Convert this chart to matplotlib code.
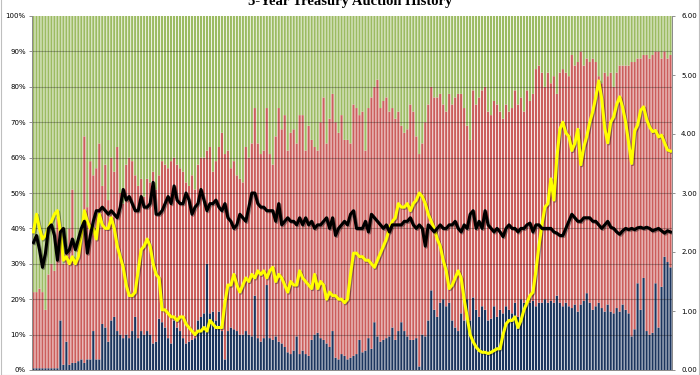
import matplotlib
matplotlib.use("Agg")
import matplotlib.pyplot as plt
import matplotlib.patheffects as pe
import numpy as np

# direct bidders, % of auction
direct = [
    0.5, 0.5, 0.5, 0.5, 0.5, 0.5, 0.5, 0.5, 0.5, 14,
    1.5, 8, 1.5, 2, 2, 2.5, 3, 2, 3, 3,
    11, 3, 3, 13, 12, 8, 14, 15, 11, 10,
    9, 10, 9, 11, 15, 9, 11, 10, 11, 10,
    7.5, 8, 14.5, 13.5, 12, 9, 7.5, 14, 12, 11,
    9, 7.5, 8, 8.5, 9, 14, 15, 16, 30, 16,
    16.5, 14, 16.5, 11, 3, 11, 12, 11.5, 11, 10,
    10, 11, 10, 9.5, 21, 9, 8, 9, 24, 9,
    8.5, 9.5, 8, 7.5, 6.5, 5, 4.5, 5.5, 9.5, 4.5,
    5.5, 4.5, 4, 8.5, 10, 10.5, 9, 8.5, 7.5, 6.5,
    11, 3.5, 3, 4.5, 4, 3, 3.5, 4, 4.5, 8.5,
    5, 5.5, 9, 6, 13.5, 9.5, 8, 8.5, 9, 9.5,
    12, 8.5, 11, 13.5, 11, 9.5, 8.5, 8.5, 9, 1,
    10, 9.5, 14, 22.5, 17, 15, 19, 20, 18, 19,
    14, 12, 11, 16, 14, 20, 14, 20.5, 17, 15,
    18, 17, 14, 14.5, 18, 15, 17, 16, 18, 17,
    16, 19, 15, 20, 19, 18, 19, 19.5, 18, 19,
    19, 20, 19, 19.5, 19, 21, 19, 18, 19, 18,
    17.5, 18.5, 16.5, 18.5, 19.5, 21.7, 19, 17, 18, 19,
    17.5, 16.5, 18.5, 16.5, 16, 17.5, 16.5, 18.5, 17, 16,
    9.5, 11.5, 24.5, 17, 26, 11, 10, 10.5, 24.5, 12,
    23.5, 32, 30.5, 29,
]

# direct + indirect bidders, % of auction (rest went to dealers)
direct_indirect = [
    22, 22, 23, 22, 17, 27, 30, 28, 43, 36,
    30, 33, 40, 51, 31, 34, 40, 66, 46, 59,
    55, 57, 64, 52, 58, 48, 60, 56, 63, 50,
    47, 58, 60, 59, 55, 52, 54, 49, 54, 53,
    56, 51, 55, 59, 58, 57, 59, 60, 58, 57,
    56, 53, 52, 55, 51, 58, 60, 60, 62, 63,
    56, 59, 63, 67, 61, 62, 57, 59, 55, 54,
    53, 63, 60, 64, 74, 64, 61, 62, 74, 61,
    58, 66, 74, 68, 72, 62, 67, 68, 64, 72,
    72, 62, 69, 65, 63, 62, 70, 77, 64, 71,
    78, 70, 67, 72, 65, 65, 64, 75, 74, 72,
    73, 62, 74, 77, 80, 82, 74, 76, 77, 73,
    74, 71, 73, 69, 67, 68, 75, 73, 66, 61,
    64, 70, 75, 80, 77, 77, 78, 75, 73, 78,
    75, 77, 78, 78, 74, 69, 65, 79, 75, 77,
    79, 80, 73, 72, 76, 75, 73, 71, 75, 73,
    74, 79, 75, 77, 73, 79, 76, 78, 85, 86,
    84, 80, 84, 81, 83, 78, 84, 85, 84, 83,
    89, 86, 87, 90, 86, 88, 87, 88, 87, 83,
    81, 84, 83, 84, 80, 84, 86, 86, 86, 86,
    87, 87, 88, 88, 89, 89, 88, 89, 90, 90,
    88, 90, 88, 89,
]

# bid to cover ratio (right axis)
bid_to_cover = [
    2.16, 2.28, 2.04, 1.74, 1.98, 2.40, 2.46, 2.28, 1.86, 2.34,
    2.40, 1.98, 2.04, 2.22, 2.04, 2.22, 2.40, 2.52, 1.98, 2.28,
    2.52, 2.70, 2.70, 2.76, 2.70, 2.64, 2.70, 2.64, 2.58, 2.76,
    3.06, 2.88, 2.94, 2.82, 2.70, 2.70, 2.94, 2.76, 2.76, 2.82,
    3.18, 2.64, 2.64, 2.70, 2.82, 2.94, 2.82, 3.12, 2.88, 2.82,
    2.82, 3.00, 2.88, 2.64, 2.76, 2.82, 3.06, 2.88, 2.70, 2.82,
    2.82, 2.88, 2.76, 2.70, 2.82, 2.58, 2.52, 2.40, 2.46, 2.64,
    2.58, 2.52, 2.76, 3.00, 3.00, 2.82, 2.76, 2.76, 2.70, 2.70,
    2.70, 2.52, 2.82, 2.46, 2.52, 2.58, 2.52, 2.52, 2.46, 2.58,
    2.46, 2.58, 2.46, 2.52, 2.40, 2.46, 2.46, 2.52, 2.58, 2.40,
    2.58, 2.28, 2.40, 2.46, 2.52, 2.46, 2.64, 2.70, 2.40, 2.40,
    2.40, 2.52, 2.34, 2.64, 2.58, 2.52, 2.46, 2.40, 2.46, 2.34,
    2.46, 2.46, 2.46, 2.46, 2.52, 2.52, 2.58, 2.46, 2.40, 2.46,
    2.40, 2.10, 2.46, 2.40, 2.34, 2.40, 2.46, 2.40, 2.40, 2.46,
    2.46, 2.52, 2.40, 2.34, 2.46, 2.40, 2.64, 2.70, 2.40, 2.52,
    2.40, 2.70, 2.46, 2.40, 2.34, 2.40, 2.34, 2.26, 2.40, 2.46,
    2.40, 2.40, 2.34, 2.40, 2.40, 2.46, 2.49, 2.34, 2.46, 2.46,
    2.40, 2.40, 2.40, 2.40, 2.34, 2.32, 2.28, 2.28, 2.40, 2.52,
    2.64, 2.58, 2.52, 2.52, 2.58, 2.58, 2.58, 2.52, 2.52, 2.46,
    2.40, 2.46, 2.52, 2.42, 2.40, 2.34, 2.30, 2.36, 2.40, 2.38,
    2.40, 2.38, 2.41, 2.42, 2.40, 2.42, 2.40, 2.36, 2.38, 2.40,
    2.36, 2.32, 2.36, 2.34,
]

# auction high yield, % (right axis)
high_yield = [
    2.34, 2.64, 2.40, 2.22, 2.28, 2.40, 2.52, 2.64, 2.70, 2.34,
    1.86, 1.92, 1.80, 1.92, 1.80, 1.92, 2.28, 2.70, 2.52, 2.40,
    2.40, 2.22, 2.64, 2.46, 2.40, 2.40, 2.58, 2.40, 2.10, 1.92,
    1.74, 1.44, 1.26, 1.26, 1.32, 1.68, 2.04, 2.10, 2.22, 2.10,
    1.80, 1.62, 1.56, 1.02, 1.02, 0.96, 0.90, 0.90, 0.84, 0.90,
    0.90, 0.78, 0.72, 0.66, 0.60, 0.66, 0.66, 0.72, 0.66, 0.84,
    0.78, 0.72, 0.72, 0.72, 1.14, 1.44, 1.44, 1.62, 1.44, 1.32,
    1.44, 1.56, 1.50, 1.62, 1.56, 1.68, 1.62, 1.68, 1.56, 1.68,
    1.74, 1.50, 1.62, 1.56, 1.44, 1.32, 1.50, 1.44, 1.44, 1.68,
    1.56, 1.50, 1.44, 1.38, 1.62, 1.38, 1.50, 1.44, 1.20, 1.32,
    1.26, 1.26, 1.20, 1.20, 1.14, 1.20, 1.62, 1.98, 1.98, 1.92,
    1.92, 1.86, 1.86, 1.80, 1.74, 1.86, 1.98, 2.10, 2.22, 2.40,
    2.52, 2.58, 2.82, 2.76, 2.76, 2.82, 2.70, 2.82, 2.88, 3.00,
    2.94, 2.82, 2.64, 2.52, 2.40, 2.22, 2.10, 1.86, 1.68, 1.38,
    1.44, 1.56, 1.68, 1.56, 1.20, 0.90, 0.60, 0.48, 0.39, 0.33,
    0.30, 0.30, 0.28, 0.30, 0.33, 0.36, 0.36, 0.60, 0.78, 0.84,
    0.84, 0.90, 0.72, 0.84, 1.02, 1.14, 1.26, 1.32, 1.68, 2.10,
    2.46, 2.76, 2.82, 3.24, 2.88, 3.60, 4.08, 4.20, 4.02, 3.96,
    3.72, 3.84, 4.08, 3.48, 3.78, 3.96, 4.20, 4.38, 4.62, 4.90,
    4.60, 4.10, 3.85, 4.20, 4.29, 4.50, 4.63, 4.45, 4.20, 3.85,
    3.50, 4.05, 4.15, 4.40, 4.46, 4.25, 4.12, 4.04, 4.06, 3.95,
    3.98, 3.85, 3.73, 3.71,
]

title = "5-Year Treasury Auction History"

blue = "#1C355E"
red = "#CB5E5C"
green = "#9CBB62"

direct = np.array(direct)
direct_indirect = np.array(direct_indirect)
indirect = direct_indirect - direct
dealers = 100 - direct_indirect
x = np.arange(len(direct))

fig = plt.figure(figsize=(7, 3.75), dpi=100)
ax = fig.add_axes([32 / 700, 5 / 375, 640 / 700, 354 / 375])

# bars are ~3 px apart, so turn pixel snapping off to keep every gap visible
w = 0.72
ax.bar(x, direct, w, color=blue, zorder=2, snap=False, linewidth=0)
ax.bar(x, indirect, w, bottom=direct, color=red, zorder=2, snap=False, linewidth=0)
ax.bar(x, dealers, w, bottom=direct_indirect, color=green, zorder=2, snap=False, linewidth=0)

for g in range(10, 100, 10):
    ax.axhline(g, color="black", alpha=0.28, lw=0.8, zorder=3)

ax.set_xlim(-0.5, len(x) - 0.5)
ax.set_ylim(0, 100)
ax.set_yticks(range(0, 101, 10))
ax.set_yticklabels([f"{v}%" for v in range(0, 101, 10)])
ax.set_xticks([])
ax.tick_params(axis="y", labelsize=5, length=2.5, width=0.6, color="#808080", pad=2)

ax2 = ax.twinx()
ax2.set_ylim(0, 6)
ax2.set_yticks(range(0, 7))
ax2.set_yticklabels([f"{v:.2f}" for v in range(0, 7)])
ax2.tick_params(axis="y", labelsize=5, length=2.5, width=0.6, color="#808080", pad=4)

shadow = [pe.SimpleLineShadow(offset=(0.8, -0.8), alpha=0.35), pe.Normal()]
ax2.plot(x, high_yield, color="#FFFF00", lw=2.2, zorder=5, path_effects=shadow)
ax2.plot(x, bid_to_cover, color="black", lw=2.2, zorder=6, path_effects=shadow)

for a in (ax, ax2):
    a.spines["top"].set_visible(False)
    for s in ("left", "right", "bottom"):
        a.spines[s].set_color("#8C8C8C")
        a.spines[s].set_linewidth(0.7)

fig.text(0.5, 1 - 5 / 375, title, ha="center", va="baseline", fontsize=10.5,
         fontweight="bold", family="Liberation Serif")

fig.patches.append(plt.Rectangle((0.002, 0), 0.996, 1.2, transform=fig.transFigure,
                                 fill=False, edgecolor="#BFBFBF", lw=0.8))

fig.savefig("out.png", dpi=100)
